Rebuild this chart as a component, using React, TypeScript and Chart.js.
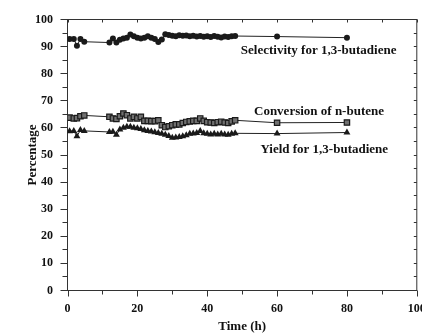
import React, { useEffect, useRef } from "react";
import { Chart, registerables } from "chart.js";

Chart.register(...registerables);

// Time on stream (h)
const hours = [
  0.6, 1.8, 2.7, 3.7, 4.8,
  12, 13, 14, 15, 16, 17, 18, 19, 20, 21, 22, 23, 24, 25, 26, 27, 28, 29, 30, 31,
  32, 33, 34, 35, 36, 37, 38, 39, 40, 41, 42, 43, 44, 45, 46, 47, 48,
  60, 80,
];

// Selectivity for 1,3-butadiene (%)
const selectivity = [
  92.8, 92.8, 90.3, 92.8, 91.8,
  91.5, 93.0, 91.5, 92.5, 93.0, 93.3, 94.5, 93.8, 93.3, 93.0, 93.3, 93.8, 93.3, 92.8, 91.7, 92.6, 94.6, 94.3, 94.0, 93.8,
  94.2, 94.0, 94.1, 93.8, 94.0, 93.7, 93.9, 93.6, 93.8, 93.5, 93.9, 93.6, 93.4, 93.7, 93.5, 93.8, 93.9,
  93.7, 93.3,
];

// Conversion of n-butene (%)
const conversion = [
  63.8, 63.5, 63.6, 64.3, 64.6,
  64.1, 63.5, 63.3, 64.3, 65.3, 64.7, 63.5, 64.1, 63.5, 64.1, 62.6, 62.6, 62.5, 62.5, 62.8, 61.0, 60.3, 60.6, 61.0, 61.3,
  61.3, 61.8, 62.2, 62.4, 62.6, 62.6, 63.5, 62.6, 62.1, 62.0, 61.8, 62.1, 62.3, 62.0, 61.8, 62.4, 62.8,
  61.9, 62.0,
];

// Yield for 1,3-butadiene (%)
const yieldBd = [
  58.8, 58.9, 56.9, 59.2, 58.9,
  58.5, 58.6, 57.5, 59.4, 60.1, 60.4, 60.4, 60.1, 59.9, 59.6, 59.1, 58.9, 58.7, 58.4, 58.1, 57.8, 57.5, 57.0, 56.4, 56.5,
  56.6, 56.9, 57.3, 57.8, 57.9, 58.1, 58.9, 58.0, 57.8, 57.6, 57.8, 57.6, 57.8, 57.6, 57.5, 57.8, 58.0,
  57.9, 58.3,
];

const seriesLabels = [
  "Selectivity for 1,3-butadiene",
  "Conversion of n-butene",
  "Yield for 1,3-butadiene",
];

// where each series label sits, in data units (x hours, y %)
const labelAnchorX = [71.9, 72, 73.5];
const labelAnchorY = [88.5, 66, 51.8];

const FONT_FAMILY = "'Liberation Serif', 'Times New Roman', serif";
const INK = "#111";

const frameTicks = {
  id: "frameTicks",
  beforeDatasetsDraw(chart: any) {
    const { ctx, chartArea: a, scales } = chart;
    const x = scales.x;
    const y = scales.y;
    ctx.save();
    ctx.strokeStyle = "#333";
    ctx.lineWidth = 1;
    ctx.strokeRect(a.left, a.top, a.right - a.left, a.bottom - a.top);
    ctx.beginPath();
    for (let v = 0; v <= 100; v += 10) {
      const px = Math.round(x.getPixelForValue(v)) + 0.5;
      const major = v % 20 === 0;
      ctx.moveTo(px, a.bottom);
      ctx.lineTo(px, a.bottom + (major ? 6 : 4));
      ctx.moveTo(px, a.top);
      ctx.lineTo(px, a.top + 3);
    }
    for (let v = 0; v <= 100; v += 5) {
      const py = Math.round(y.getPixelForValue(v) - 0.5) + 0.5;
      const major = v % 10 === 0;
      ctx.moveTo(a.left, py);
      ctx.lineTo(a.left - (major ? 7 : 5), py);
      ctx.moveTo(a.right, py);
      ctx.lineTo(a.right - 3, py);
    }
    ctx.stroke();
    ctx.restore();
  },
};

const seriesText = {
  id: "seriesText",
  afterDatasetsDraw(chart: any) {
    const { ctx, scales } = chart;
    ctx.save();
    ctx.fillStyle = INK;
    ctx.font = `bold 13px ${FONT_FAMILY}`;
    ctx.textAlign = "center";
    ctx.textBaseline = "middle";
    seriesLabels.forEach((t, i) => {
      ctx.fillText(
        t,
        scales.x.getPixelForValue(labelAnchorX[i]),
        scales.y.getPixelForValue(labelAnchorY[i])
      );
    });
    ctx.restore();
  },
};

export default function App() {
  const ref = useRef<HTMLCanvasElement | null>(null);

  useEffect(() => {
    if (!ref.current) return;
    const pts = (vals: number[]) => hours.map((h, i) => ({ x: h, y: vals[i] }));
    const tickFont = { family: FONT_FAMILY, size: 12, weight: "bold" as const };
    const titleFont = { family: FONT_FAMILY, size: 13, weight: "bold" as const };

    const chart = new Chart(ref.current, {
      type: "scatter",
      data: {
        datasets: [
          {
            label: seriesLabels[0],
            data: pts(selectivity),
            showLine: true,
            tension: 0,
            borderColor: "#222",
            borderWidth: 1,
            pointStyle: "circle",
            pointRadius: 3,
            pointBackgroundColor: "#1a1a1a",
            pointBorderColor: "#1a1a1a",
            pointBorderWidth: 0,
          },
          {
            label: seriesLabels[1],
            data: pts(conversion),
            showLine: true,
            tension: 0,
            borderColor: "#222",
            borderWidth: 1,
            pointStyle: "rect",
            pointRadius: 3.8,
            pointBackgroundColor: "#707070",
            pointBorderColor: "#1a1a1a",
            pointBorderWidth: 1.2,
          },
          {
            label: seriesLabels[2],
            data: pts(yieldBd),
            showLine: true,
            tension: 0,
            borderColor: "#222",
            borderWidth: 1,
            pointStyle: "triangle",
            pointRadius: 4,
            pointBackgroundColor: "#1a1a1a",
            pointBorderColor: "#1a1a1a",
            pointBorderWidth: 0,
          },
        ],
      },
      options: {
        animation: false,
        responsive: false,
        devicePixelRatio: 1,
        layout: { padding: { left: 0, right: 2.5, top: 19.5, bottom: 0 } },
        plugins: { legend: { display: false }, tooltip: { enabled: false } },
        scales: {
          x: {
            type: "linear",
            min: 0,
            max: 100,
            ticks: {
              stepSize: 20,
              font: tickFont,
              color: INK,
              padding: 11,
              maxRotation: 0,
              autoSkip: false,
            },
            grid: { display: false, drawTicks: false },
            border: { display: false },
            title: {
              display: true,
              text: "Time (h)",
              font: titleFont,
              color: INK,
              padding: { top: 0, bottom: 2 },
            },
            afterFit: (s: any) => {
              s.height = 45.5;
              s.paddingLeft = 0;
              s.paddingRight = 0;
            },
          },
          y: {
            type: "linear",
            min: 0,
            max: 100,
            ticks: { stepSize: 10, font: tickFont, color: INK, padding: 14.5 },
            grid: { display: false, drawTicks: false },
            border: { display: false },
            title: {
              display: true,
              text: "Percentage",
              font: titleFont,
              color: INK,
              padding: { top: 25, bottom: 0 },
            },
            afterFit: (s: any) => {
              s.width = 67.5;
              s.paddingTop = 0;
              s.paddingBottom = 0;
            },
          },
        },
      },
      plugins: [frameTicks, seriesText],
    });
    return () => chart.destroy();
  }, []);

  return (
    <div
      style={{
        position: "fixed",
        left: 0,
        top: 0,
        width: 422,
        height: 336,
        overflow: "hidden",
        background: "#fff",
      }}
    >
      <canvas ref={ref} width={422} height={336} style={{ display: "block" }} />
    </div>
  );
}
